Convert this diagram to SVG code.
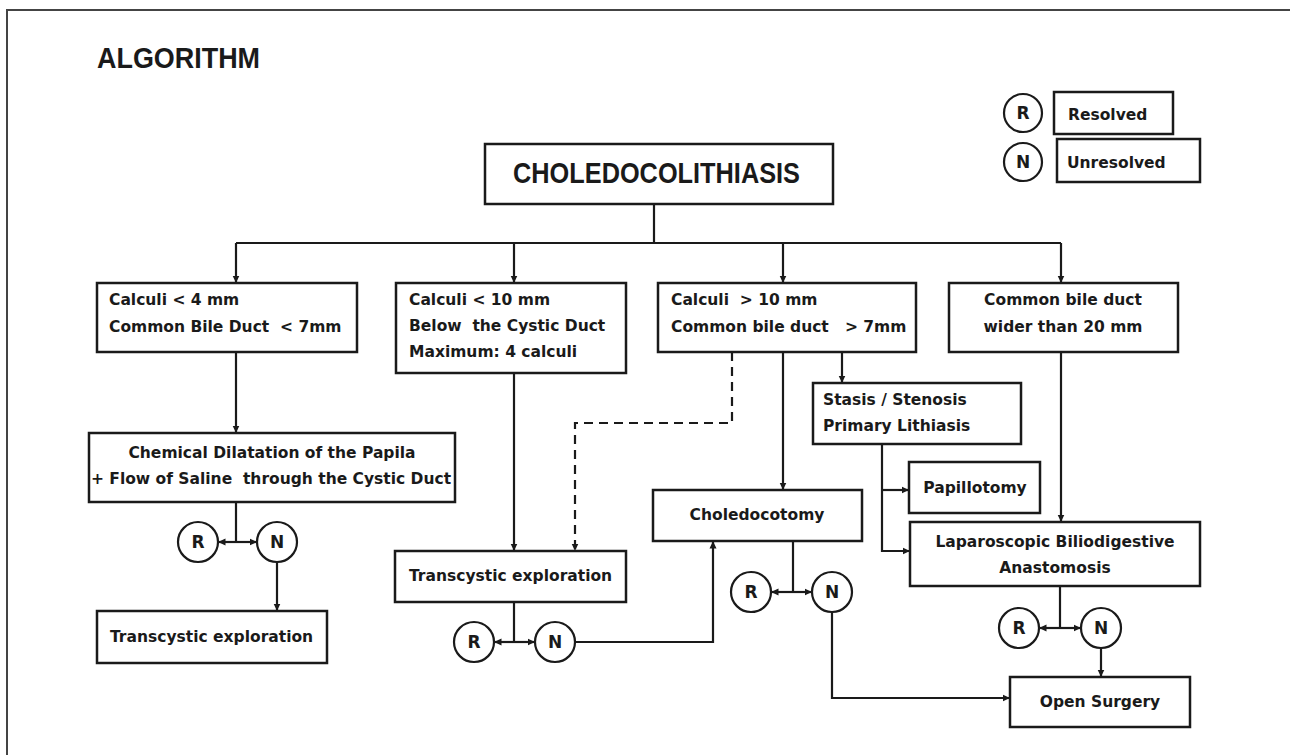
<svg xmlns="http://www.w3.org/2000/svg" width="1290" height="755" viewBox="0 0 1290 755">
<style>
.box{fill:#fff;stroke:#1a1a1a;stroke-width:2.5}
.cir{fill:#fff;stroke:#1a1a1a;stroke-width:2.2}
.t{font-family:"DejaVu Sans",sans-serif;font-weight:bold;font-size:15.5px;fill:#1a1a1a}
.cl{font-family:"DejaVu Sans",sans-serif;font-weight:bold;font-size:17px;fill:#1a1a1a;text-anchor:middle}
.c{text-anchor:middle}
.ln{fill:none;stroke:#1a1a1a;stroke-width:2.2}
.dash{stroke-dasharray:9 6}
.arr{marker-end:url(#ah)}
</style>
<defs>
<marker id="ah" markerUnits="userSpaceOnUse" markerWidth="9" markerHeight="9" refX="7.5" refY="4.5" orient="auto">
<path d="M0,1 L7.5,4.5 L0,8 z" fill="#1a1a1a"/>
</marker>
</defs>
<rect width="1290" height="755" fill="#fff"/>
<path d="M7 755 V10 H1290" fill="none" stroke="#444" stroke-width="2"/>
<text x="97" y="68" font-family="Liberation Sans, sans-serif" font-weight="bold" font-size="29" fill="#1a1a1a" textLength="163" lengthAdjust="spacingAndGlyphs">ALGORITHM</text>

<g id="legend">
<circle class="cir" cx="1023" cy="113" r="19"/><text class="cl" x="1023" y="119">R</text>
<rect class="box" x="1054" y="92" width="119" height="42"/><text class="t" x="1068" y="120" font-size="17">Resolved</text>
<circle class="cir" cx="1023" cy="162" r="19"/><text class="cl" x="1023" y="168">N</text>
<rect class="box" x="1057" y="139" width="143" height="43"/><text class="t" x="1067" y="168" font-size="17">Unresolved</text>
</g>

<g id="connectors">
<path class="ln" d="M654 204 V243 M236 243 H1061"/>
<path class="ln arr" d="M236 243 V283"/>
<path class="ln arr" d="M514 243 V283"/>
<path class="ln arr" d="M783 243 V283"/>
<path class="ln arr" d="M1061 243 V283"/>
<path class="ln arr" d="M236 352 V433"/>
<path class="ln" d="M236 502 V542"/>
<path class="ln arr" d="M236 542 H218"/>
<path class="ln arr" d="M236 542 H257"/>
<path class="ln arr" d="M277 562 V611"/>
<path class="ln arr" d="M514 373 V551"/>
<path class="ln dash arr" d="M732 352 V423 H575 V551"/>
<path class="ln arr" d="M783 352 V490"/>
<path class="ln arr" d="M842 352 V383"/>
<path class="ln arr" d="M882 444 V551 H910"/>
<path class="ln arr" d="M882 490 H909"/>
<path class="ln arr" d="M1061 352 V522"/>
<path class="ln" d="M514 602 V642"/>
<path class="ln arr" d="M514 642 H494"/>
<path class="ln arr" d="M514 642 H535"/>
<path class="ln arr" d="M575 642 H713 V541"/>
<path class="ln" d="M793 541 V592"/>
<path class="ln arr" d="M793 592 H771"/>
<path class="ln arr" d="M793 592 H812"/>
<path class="ln arr" d="M832 612 V698 H1010"/>
<path class="ln" d="M1060 586 V628"/>
<path class="ln arr" d="M1060 628 H1039"/>
<path class="ln arr" d="M1060 628 H1081"/>
<path class="ln arr" d="M1101 648 V677"/>
</g>

<g id="root">
<rect class="box" x="485" y="144" width="348" height="60"/>
<text x="513" y="183" font-family="Liberation Sans, sans-serif" font-weight="bold" font-size="30" fill="#1a1a1a" textLength="287" lengthAdjust="spacingAndGlyphs">CHOLEDOCOLITHIASIS</text>
</g>

<g id="b1">
<rect class="box" x="97" y="283" width="260" height="69"/>
<text class="t" x="109" y="305" xml:space="preserve">Calculi &lt; 4 mm</text>
<text class="t" x="109" y="332" xml:space="preserve">Common Bile Duct  &lt; 7mm</text>
</g>
<g id="b2">
<rect class="box" x="396" y="283" width="230" height="90"/>
<text class="t" x="409" y="305" xml:space="preserve">Calculi &lt; 10 mm</text>
<text class="t" x="409" y="331" xml:space="preserve">Below  the Cystic Duct</text>
<text class="t" x="409" y="357" xml:space="preserve">Maximum: 4 calculi</text>
</g>
<g id="b3">
<rect class="box" x="658" y="283" width="258" height="69"/>
<text class="t" x="671" y="305" xml:space="preserve">Calculi  &gt; 10 mm</text>
<text class="t" x="671" y="332" xml:space="preserve">Common bile duct   &gt; 7mm</text>
</g>
<g id="b4">
<rect class="box" x="949" y="283" width="229" height="69"/>
<text class="t c" x="1063" y="305">Common bile duct</text>
<text class="t c" x="1063" y="332">wider than 20 mm</text>
</g>
<g id="stasis">
<rect class="box" x="813" y="383" width="208" height="61"/>
<text class="t" x="823" y="405" xml:space="preserve">Stasis / Stenosis</text>
<text class="t" x="823" y="431">Primary Lithiasis</text>
</g>
<g id="chem">
<rect class="box" x="89" y="433" width="366" height="69"/>
<text class="t c" x="272" y="458">Chemical Dilatation of the Papila</text>
<text class="t c" x="271" y="484" xml:space="preserve">+ Flow of Saline  through the Cystic Duct</text>
</g>
<g id="papillo">
<rect class="box" x="909" y="462" width="131" height="51"/>
<text class="t c" x="975" y="493">Papillotomy</text>
</g>
<g id="chole">
<rect class="box" x="653" y="490" width="209" height="51"/>
<text class="t c" x="757" y="520">Choledocotomy</text>
</g>
<g id="lap">
<rect class="box" x="910" y="522" width="290" height="64"/>
<text class="t c" x="1055" y="547">Laparoscopic Biliodigestive</text>
<text class="t c" x="1055" y="573">Anastomosis</text>
</g>
<g id="trans2">
<rect class="box" x="395" y="551" width="231" height="51"/>
<text class="t" x="409" y="581">Transcystic exploration</text>
</g>
<g id="trans1">
<rect class="box" x="97" y="611" width="230" height="52"/>
<text class="t" x="110" y="642">Transcystic exploration</text>
</g>
<g id="open">
<rect class="box" x="1010" y="677" width="180" height="50"/>
<text class="t c" x="1100" y="707">Open Surgery</text>
</g>

<g id="rn1"><circle class="cir" cx="198" cy="542" r="20"/><text class="cl" x="198" y="548">R</text><circle class="cir" cx="277" cy="542" r="20"/><text class="cl" x="277" y="548">N</text></g>
<g id="rn2"><circle class="cir" cx="474" cy="642" r="20"/><text class="cl" x="474" y="648">R</text><circle class="cir" cx="555" cy="642" r="20"/><text class="cl" x="555" y="648">N</text></g>
<g id="rn3"><circle class="cir" cx="751" cy="592" r="20"/><text class="cl" x="751" y="598">R</text><circle class="cir" cx="832" cy="592" r="20"/><text class="cl" x="832" y="598">N</text></g>
<g id="rn4"><circle class="cir" cx="1019" cy="628" r="20"/><text class="cl" x="1019" y="634">R</text><circle class="cir" cx="1101" cy="628" r="20"/><text class="cl" x="1101" y="634">N</text></g>
</svg>
